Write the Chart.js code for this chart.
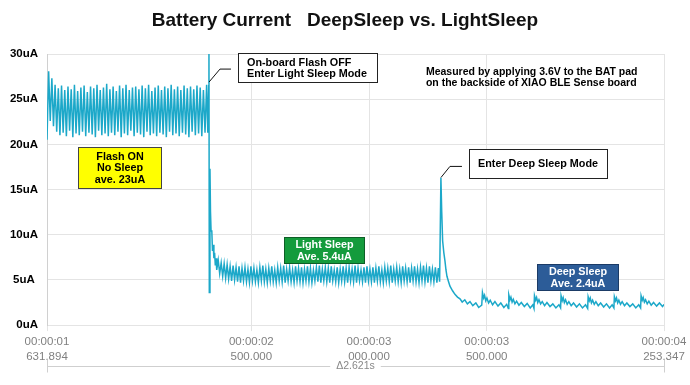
<!DOCTYPE html>
<html>
<head>
<meta charset="utf-8">
<script src="https://cdn.jsdelivr.net/npm/chart.js@4.4.1/dist/chart.umd.min.js"></script>
<style>
  html, body { margin: 0; padding: 0; background: #fff; }
  #wrap { width: 690px; height: 385px; }
</style>
</head>
<body>
<div id="wrap"><canvas id="currentChart" width="690" height="385"></canvas></div>
<script>
/* ================= DATA ================= */
const chartTitle = "Battery Current   DeepSleep vs. LightSleep";

// time axis ticks (seconds) and their two-line labels
const xTickValues = [1.631894, 2.5, 3.0, 3.5, 4.253347];
const xTickTop = ["00:00:01", "00:00:02", "00:00:03", "00:00:03", "00:00:04"];
const xTickBottom = ["631.894", "500.000", "000.000", "500.000", "253.347"];
const spanLabel = "\u03942.621s";

const yTickLabels = ["0uA", "5uA ", "10uA", "15uA", "20uA", "25uA", "30uA"];

// flash ON, no sleep: samples every 6.85 ms from 1.632 s (uA)
const flashStart = 1.632;
const flashStep = 0.00685;
const flashCurrent = [
  20.5, 28.1, 22.6, 27.3, 22.0, 26.6, 21.4, 26.2, 21.0, 26.5,
  21.3, 26.0, 20.9, 26.4, 21.5, 26.1, 20.8, 26.6, 21.2, 25.9,
  21.0, 26.3, 21.4, 26.5, 20.9, 25.8, 21.3, 26.4, 21.1, 26.2,
  20.8, 26.6, 21.5, 26.0, 21.0, 26.3, 21.2, 26.7, 20.9, 26.1,
  21.3, 26.4, 21.0, 25.9, 21.4, 26.5, 20.8, 26.2, 21.2, 26.6,
  21.0, 26.0, 21.5, 26.3, 20.9, 26.4, 21.3, 26.1, 21.1, 26.5,
  20.8, 26.2, 21.4, 26.6, 21.0, 25.9, 21.2, 26.3, 20.9, 26.5,
  21.3, 26.0, 21.1, 26.4, 20.8, 26.2, 21.4, 26.6, 21.0, 26.1,
  21.2, 26.4, 20.9, 26.0, 21.3, 26.5, 21.1, 26.2, 20.8, 26.4,
  21.4, 26.1, 21.0, 26.5, 21.2, 26.3, 20.9, 26.0, 21.3, 26.6
];

// flash switched off -> light sleep entry
const transTime = [2.3150, 2.3190, 2.3200, 2.3215, 2.3243, 2.3265, 2.3290, 2.3320,
  2.3350, 2.3380, 2.3410, 2.3440, 2.3470, 2.3500];
const transCurrent = [21.3, 26.5, 31.0, 3.6, 17.3, 12.6, 10.4, 10.5,
  8.2, 8.9, 7.4, 8.0, 6.6, 7.4];

// light sleep: samples every 6.32 ms from 2.353 s (uA)
const lightStart = 2.353;
const lightStep = 0.00632;
const lightCurrent = [
  6.1, 7.2, 5.7, 6.9, 5.4, 6.8, 5.2, 6.7, 5.1, 6.5,
  4.9, 6.6, 5.0, 6.4, 4.8, 6.5, 4.7, 6.3, 4.9, 6.4,
  4.8, 6.2, 4.7, 6.5, 4.9, 6.3, 4.8, 6.1, 4.7, 6.4,
  4.9, 6.6, 4.8, 6.2, 4.7, 6.3, 4.9, 6.5, 4.8, 6.1,
  4.7, 6.4, 4.9, 6.3, 4.8, 6.6, 4.7, 6.2, 4.9, 6.4,
  4.8, 6.1, 4.7, 6.5, 4.9, 6.3, 4.8, 6.4, 4.7, 6.2,
  4.9, 6.5, 4.8, 6.3, 4.7, 6.1, 4.9, 6.4, 4.8, 6.6,
  4.7, 6.2, 4.9, 6.4, 4.8, 6.3, 4.7, 6.5, 4.9, 6.1,
  4.8, 6.4, 4.7, 6.2, 4.9, 6.5, 4.8, 6.3, 4.7, 6.4,
  4.9, 6.2, 4.8, 6.6, 4.7, 6.3, 4.9, 6.1, 4.8, 6.4,
  4.7, 6.5, 4.9, 6.2, 4.8, 6.4, 4.7, 6.3, 4.9, 6.5,
  4.8, 6.1, 4.7, 6.4, 4.9, 6.3, 4.8, 6.6, 4.7, 6.2,
  4.9, 6.4, 4.8, 6.2, 4.7, 6.5, 4.9, 6.3, 4.8, 6.4,
  4.7, 6.3, 4.9, 6.5, 4.8, 6.2, 4.7, 6.4, 4.9, 6.6,
  4.8, 6.3, 4.7, 6.5, 4.9, 6.2, 4.8, 6.4, 4.7, 6.3
];

// deep sleep: spike, decay, then periodic wake-up teeth (noisy)
const deepTime = [
  3.3000, 3.3055, 3.3090, 3.3129, 3.3180, 3.3227, 3.3270, 3.3312, 3.3380, 3.3440,
  3.3550, 3.3652, 3.3760, 3.3865, 3.3960, 3.4070, 3.4180, 3.4290, 3.4410, 3.4540, 3.4660, 3.4790,
  3.4820, 3.4870, 3.4910, 3.4960, 3.5010, 3.5080, 3.5150, 3.5250, 3.5350, 3.5480, 3.5600, 3.5730, 3.5850, 3.5920,
  3.5940, 3.5990, 3.6030, 3.6080, 3.6130, 3.6200, 3.6270, 3.6370, 3.6470, 3.6600, 3.6720, 3.6850, 3.6960, 3.7010,
  3.7030, 3.7080, 3.7120, 3.7170, 3.7220, 3.7290, 3.7360, 3.7460, 3.7560, 3.7690, 3.7810, 3.7940, 3.8070, 3.8140,
  3.8160, 3.8210, 3.8250, 3.8300, 3.8350, 3.8420, 3.8490, 3.8590, 3.8690, 3.8820, 3.8940, 3.9070, 3.9200, 3.9290,
  3.9310, 3.9360, 3.9400, 3.9450, 3.9500, 3.9570, 3.9640, 3.9740, 3.9840, 3.9970, 4.0090, 4.0220, 4.0330, 4.0405,
  4.0425, 4.0475, 4.0515, 4.0565, 4.0615, 4.0685, 4.0755, 4.0855, 4.0955, 4.1085, 4.1205, 4.1335, 4.1460, 4.1540,
  4.1560, 4.1610, 4.1650, 4.1700, 4.1750, 4.1820, 4.1890, 4.1990, 4.2090, 4.2220, 4.2340, 4.2470, 4.2535
];
const deepCurrent = [
  4.8, 16.3, 12.5, 9.3, 8.0, 7.1, 6.1, 5.4, 4.8, 4.3,
  3.8, 3.4, 3.1, 2.9, 2.55, 2.8, 2.35, 2.6, 2.15, 2.45, 1.95, 2.2,
  3.6, 3.0, 3.3, 2.7, 3.0, 2.45, 2.75, 2.25, 2.6, 2.1, 2.45, 1.95, 2.3, 1.85,
  3.35, 2.8, 3.1, 2.55, 2.85, 2.35, 2.65, 2.2, 2.5, 2.05, 2.4, 1.9, 2.25, 1.85,
  3.25, 2.75, 3.05, 2.5, 2.8, 2.35, 2.6, 2.15, 2.5, 2.05, 2.35, 1.9, 2.25, 1.9,
  3.25, 2.7, 3.05, 2.5, 2.8, 2.3, 2.6, 2.15, 2.45, 2.0, 2.35, 1.9, 2.25, 1.85,
  3.15, 2.7, 3.0, 2.45, 2.75, 2.3, 2.6, 2.15, 2.45, 2.0, 2.35, 1.9, 2.25, 1.9,
  3.15, 2.7, 3.0, 2.45, 2.75, 2.3, 2.6, 2.15, 2.45, 2.05, 2.35, 1.9, 2.25, 1.9,
  3.25, 2.75, 3.05, 2.55, 2.8, 2.35, 2.65, 2.2, 2.5, 2.1, 2.45, 2.05, 2.3
];

/* ================= ANNOTATIONS (data units) ================= */
const notes = [
  { t: [1.7636, 2.1162], v: [19.67, 15.22], lines: ["Flash ON", "No Sleep", "ave. 23uA"],
    fill: "#ffff00", stroke: "#444", color: "#000", align: "center" },
  { t: [2.4433, 3.0338], v: [30.1, 26.9], lines: ["On-board Flash OFF", "Enter Light Sleep Mode"],
    fill: "#fff", stroke: "#222", color: "#000", align: "left" },
  { t: [3.4246, 4.0109], v: [19.44, 16.33], lines: ["Enter Deep Sleep Mode"],
    fill: "#fff", stroke: "#222", color: "#000", align: "left" },
  { t: [2.6387, 2.9785], v: [9.78, 6.89], lines: ["Light Sleep", "Ave. 5.4uA"],
    fill: "#149b3c", stroke: "#0d5e26", color: "#fff", align: "center" },
  { t: [3.7135, 4.0576], v: [6.78, 3.89], lines: ["Deep Sleep", "Ave. 2.4uA"],
    fill: "#2c5c98", stroke: "#1b3b66", color: "#fff", align: "center" }
];
const leaders = [
  [[2.4135, 28.33], [2.3668, 28.33], [2.3201, 26.89]],
  [[3.3949, 17.56], [3.3439, 17.56], [3.3057, 16.33]]
];
const infoText = { t: 3.2419, v: [28.0, 26.8],
  lines: ["Measured by applying 3.6V to the BAT pad", "on the backside of XIAO BLE Sense board"] };

/* ================= BUILD SERIES ================= */
const points = [];
flashCurrent.forEach((v, i) => points.push({ x: flashStart + i * flashStep, y: v }));
transCurrent.forEach((v, i) => points.push({ x: transTime[i], y: v }));
lightCurrent.forEach((v, i) => points.push({ x: lightStart + i * lightStep, y: v }));
deepCurrent.forEach((v, i) => points.push({ x: deepTime[i], y: v }));

const FONT = "'Liberation Sans', Arial, sans-serif";
Chart.defaults.font.family = FONT;

/* ================= NOTES PLUGIN ================= */
const notesPlugin = {
  id: "notes",
  afterDraw(chart) {
    const { ctx, scales: { x, y }, chartArea } = chart;
    ctx.save();

    // title, centred on the page
    ctx.font = "bold 19px " + FONT;
    ctx.fillStyle = "#111";
    ctx.textAlign = "center";
    ctx.textBaseline = "middle";
    ctx.fillText(chartTitle, chart.width / 2, 21);

    // leader lines
    ctx.strokeStyle = "#111";
    ctx.lineWidth = 1;
    leaders.forEach(path => {
      ctx.beginPath();
      path.forEach(([t, v], i) => {
        const px = x.getPixelForValue(t), py = y.getPixelForValue(v);
        i ? ctx.lineTo(px, py) : ctx.moveTo(px, py);
      });
      ctx.stroke();
    });

    // boxes
    ctx.font = "bold 10.8px " + FONT;
    notes.forEach(n => {
      const x0 = Math.round(x.getPixelForValue(n.t[0])) + 0.5;
      const x1 = Math.round(x.getPixelForValue(n.t[1])) + 0.5;
      const y0 = Math.round(y.getPixelForValue(n.v[0])) + 0.5;
      const y1 = Math.round(y.getPixelForValue(n.v[1])) + 0.5;
      ctx.fillStyle = n.fill;
      ctx.fillRect(x0, y0, x1 - x0, y1 - y0);
      ctx.strokeStyle = n.stroke;
      ctx.strokeRect(x0, y0, x1 - x0, y1 - y0);
      ctx.fillStyle = n.color;
      const lh = 11.5;
      const cy = (y0 + y1) / 2 - (n.lines.length - 1) * lh / 2 + 0.5;
      n.lines.forEach((s, i) => {
        if (n.align === "center") {
          ctx.textAlign = "center";
          ctx.fillText(s, (x0 + x1) / 2, cy + i * lh);
        } else {
          ctx.textAlign = "left";
          ctx.fillText(s, x0 + 8.5, cy + i * lh);
        }
      });
    });

    // measurement note
    ctx.font = "bold 10.5px " + FONT;
    ctx.fillStyle = "#000";
    ctx.textAlign = "left";
    infoText.lines.forEach((s, i) => {
      ctx.fillText(s, x.getPixelForValue(infoText.t), y.getPixelForValue(infoText.v[i]));
    });

    // delta bracket under the axis
    const by = 366.5;
    const mid = (chartArea.left + chartArea.right) / 2;
    ctx.font = "10.5px " + FONT;
    const tw = ctx.measureText(spanLabel).width;
    ctx.strokeStyle = "#cfcfcf";
    ctx.beginPath();
    ctx.moveTo(chartArea.left, by);
    ctx.lineTo(mid - tw / 2 - 6, by);
    ctx.moveTo(mid + tw / 2 + 6, by);
    ctx.lineTo(chartArea.right, by);
    ctx.moveTo(Math.round(chartArea.left) + 0.5, by - 7);
    ctx.lineTo(Math.round(chartArea.left) + 0.5, by + 6);
    ctx.moveTo(Math.round(chartArea.right) + 0.5, by - 7);
    ctx.lineTo(Math.round(chartArea.right) + 0.5, by + 6);
    ctx.stroke();
    ctx.fillStyle = "#888";
    ctx.textAlign = "center";
    ctx.fillText(spanLabel, mid, by);

    ctx.restore();
  }
};

/* ================= CHART ================= */
new Chart(document.getElementById("currentChart"), {
  type: "line",
  data: {
    datasets: [{
      label: "Battery current (uA)",
      data: points,
      borderColor: "#1ca8c9",
      borderWidth: 1.5,
      pointRadius: 0,
      tension: 0,
      fill: false
    }]
  },
  options: {
    responsive: false,
    animation: false,
    devicePixelRatio: 1,
    layout: { padding: { left: 0, right: 26, top: 54, bottom: 17 } },
    plugins: {
      legend: { display: false },
      tooltip: { enabled: false },
      title: { display: false }
    },
    scales: {
      x: {
        type: "linear",
        min: xTickValues[0],
        max: xTickValues[xTickValues.length - 1],
        afterBuildTicks(scale) {
          scale.ticks = xTickValues.map(v => ({ value: v }));
        },
        ticks: {
          autoSkip: false,
          maxRotation: 0,
          color: "#808080",
          font: { size: 11.5, lineHeight: 1.3 },
          padding: 3.5,
          callback: (v, i) => [xTickTop[i], xTickBottom[i]]
        },
        grid: { color: "#e4e4e4", tickLength: 6 },
        border: { display: false }
      },
      y: {
        min: 0,
        max: 30,
        ticks: {
          stepSize: 5,
          color: "#000",
          padding: 9,
          font: { size: 11.5, weight: "bold" },
          callback: v => yTickLabels[v / 5]
        },
        grid: { color: "#e4e4e4", drawTicks: false },
        border: { color: "#d0d0d0" },
        afterFit(scale) { scale.width = 47; }
      }
    }
  },
  plugins: [notesPlugin]
});
</script>
</body>
</html>
